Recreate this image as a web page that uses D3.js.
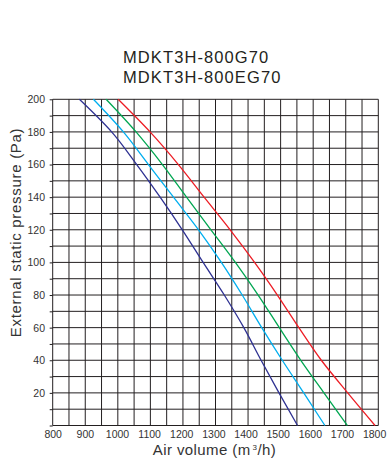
<!DOCTYPE html>
<html>
<head>
<meta charset="utf-8">
<script src="https://cdn.jsdelivr.net/npm/d3@7"></script>
<style>
    body { margin: 0; background: #fff; }
</style>
</head>
<body>
<svg id="chart" width="392" height="473"></svg>
<script>
const titleLines = ['MDKT3H-800G70', 'MDKT3H-800EG70'];
const pressure = [200, 180, 160, 140, 120, 100, 80, 60, 40, 20, 0];
const volumeDarkBlue = [882, 981, 1058, 1130, 1198, 1262, 1327, 1387, 1440, 1495, 1552];
const volumeLightBlue = [925, 1017, 1094, 1171, 1248, 1318, 1382, 1442, 1505, 1571, 1636];
const volumeGreen = [964, 1056, 1137, 1211, 1286, 1361, 1431, 1496, 1562, 1633, 1705];
const volumeRed = [1001, 1099, 1186, 1265, 1345, 1420, 1490, 1556, 1625, 1706, 1790];
const xTicks = [800, 900, 1000, 1100, 1200, 1300, 1400, 1500, 1600, 1700, 1800];
const yTicks = [20, 40, 60, 80, 100, 120, 140, 160, 180, 200];

const series = [
    { color: '#2e3192', values: volumeDarkBlue },
    { color: '#00aeef', values: volumeLightBlue },
    { color: '#00a651', values: volumeGreen },
    { color: '#ed1c24', values: volumeRed },
];

const font = "'Liberation Sans', Arial, Helvetica, sans-serif";
const ink = '#231f20';

const svg = d3.select('#chart')
    .attr('font-family', font);
const plotLeft = 52.7;
const plotRight = 378.3;
const plotTop = 99.3;
const plotBottom = 425.5;

const x = d3.scaleLinear().domain([800, 1800]).range([plotLeft, plotRight]);
const y = d3.scaleLinear().domain([0, 200]).range([plotBottom, plotTop]);

// grid, every 50 m3/h and every 10 Pa
const grid = svg.append('g').attr('class', 'grid');
grid.selectAll('line.v')
    .data(d3.range(800, 1801, 50))
    .join('line')
    .attr('class', 'v')
    .attr('x1', (d) => x(d)).attr('x2', (d) => x(d))
    .attr('y1', plotTop).attr('y2', plotBottom)
    .attr('stroke', ink)
    .attr('stroke-width', 1);
grid.selectAll('line.h')
    .data(d3.range(0, 201, 10))
    .join('line')
    .attr('class', 'h')
    .attr('x1', plotLeft).attr('x2', plotRight)
    .attr('y1', (d) => y(d)).attr('y2', (d) => y(d))
    .attr('stroke', ink)
    .attr('stroke-width', 1);

// axes
const yAxis = d3.axisLeft(y)
    .tickValues(d3.range(0, 201, 10))
    .tickSize(3)
    .tickPadding(4.7)
    .tickFormat((d) => (yTicks.includes(d) ? d : ''));
const yG = svg.append('g')
    .attr('transform', `translate(${plotLeft},0)`)
    .call(yAxis)
    .attr('font-family', font)
    .attr('font-size', 10.5);
yG.select('.domain').remove();
yG.selectAll('line').attr('stroke', ink);
yG.selectAll('text').attr('fill', '#333');

const xAxis = d3.axisBottom(x)
    .tickValues(xTicks)
    .tickSize(0)
    .tickPadding(5.4)
    .tickFormat(d3.format('d'));
const xG = svg.append('g')
    .attr('transform', `translate(0,${plotBottom})`)
    .call(xAxis)
    .attr('font-family', font)
    .attr('font-size', 10.5);
xG.select('.domain').remove();
xG.selectAll('text')
    .attr('fill', '#333')
    .attr('dx', (d, i) => -i * 0.42);

// curves
const line = d3.line()
    .x((d) => x(d[0]))
    .y((d) => y(d[1]))
    .curve(d3.curveMonotoneY);

svg.append('g')
    .selectAll('path')
    .data(series)
    .join('path')
    .attr('d', (s) => line(s.values.map((v, i) => [v, pressure[i]])))
    .attr('fill', 'none')
    .attr('stroke', (s) => s.color)
    .attr('stroke-width', 1.3);

// titles
svg.append('g')
    .selectAll('text')
    .data(titleLines)
    .join('text')
    .attr('x', 123)
    .attr('y', (d, i) => 63 + i * 20)
    .attr('font-size', 16.5)
    .attr('letter-spacing', 1.1)
    .attr('fill', ink)
    .text((d) => d);

const xLabel = svg.append('text')
    .attr('x', (plotLeft + plotRight) / 2 - 1)
    .attr('y', 455)
    .attr('text-anchor', 'middle')
    .attr('font-size', 15)
    .attr('letter-spacing', 0.4)
    .attr('fill', '#333');
xLabel.append('tspan').text('Air volume (m');
xLabel.append('tspan').attr('font-size', 8).attr('dx', 2).attr('dy', -5.5).text('3');
xLabel.append('tspan').attr('dy', 5.5).text('/h)');

svg.append('text')
    .attr('transform', 'translate(21,232.5) rotate(-90)')
    .attr('text-anchor', 'middle')
    .attr('font-size', 15)
    .attr('letter-spacing', 0.7)
    .attr('fill', '#333')
    .text('External static pressure (Pa)');
</script>
</body>
</html>
